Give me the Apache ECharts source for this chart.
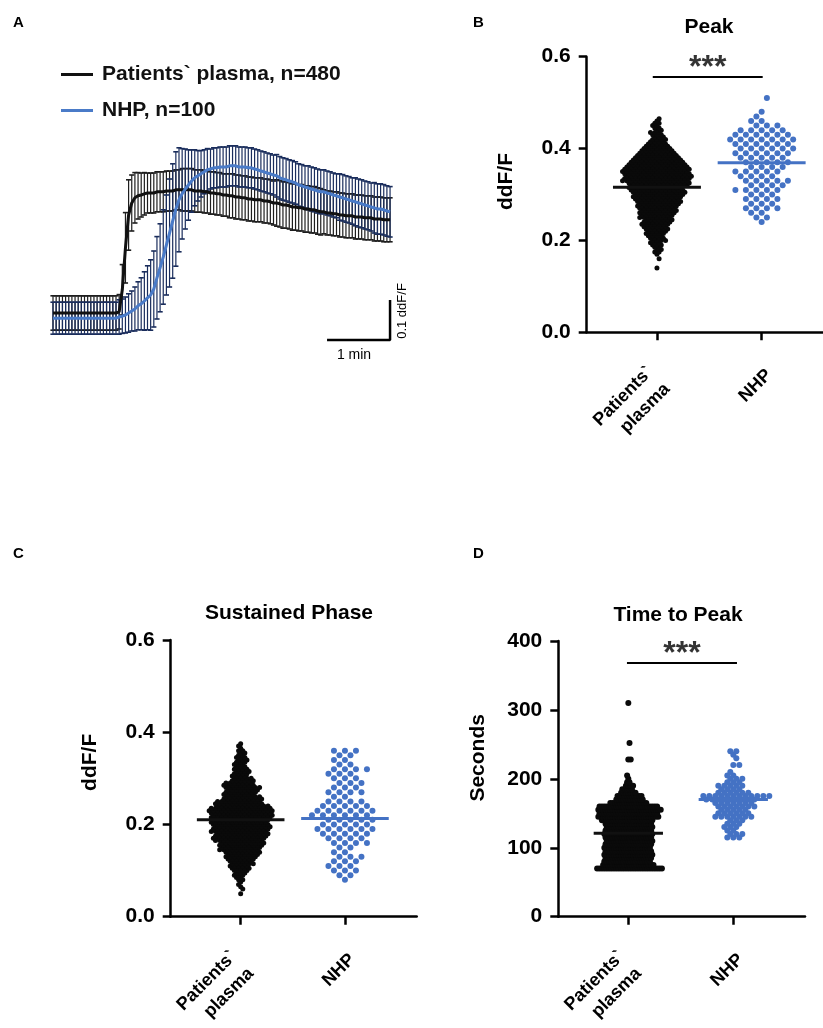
<!DOCTYPE html>
<html><head><meta charset="utf-8">
<script src="https://cdn.jsdelivr.net/npm/echarts@6/dist/echarts.min.js"></script>
<style>html,body{margin:0;padding:0;background:#fff}#c{width:823px;height:1028px}</style>
</head><body><div id="c"></div><script>
// ---------------- DATA ----------------
const legendNames = ['Patients` plasma, n=480', 'NHP, n=100'];
const groupLabels = ['Patients`\nplasma', 'NHP'];

// Panel A: mean traces (ddF/F) sampled every traceStep seconds, with SD
const traceStep = 3;
const patientsMean = [
0.005,0.005,0.005,0.005,0.005,0.005,0.005,0.005,0.005,0.005,
0.005,0.005,0.005,0.005,0.005,0.005,0.005,0.005,0.005,0.005,
0.005,0.008,0.063,0.168,0.250,0.280,0.293,0.298,0.300,0.303,
0.305,0.305,0.305,0.308,0.308,0.308,0.310,0.310,0.310,0.313,
0.313,0.313,0.313,0.313,0.313,0.310,0.310,0.310,0.308,0.308,
0.305,0.305,0.303,0.303,0.300,0.300,0.298,0.298,0.295,0.295,
0.293,0.293,0.290,0.290,0.288,0.288,0.288,0.285,0.285,0.283,
0.280,0.280,0.278,0.275,0.275,0.273,0.270,0.270,0.268,0.268,
0.265,0.265,0.263,0.263,0.260,0.258,0.258,0.255,0.255,0.253,
0.253,0.250,0.250,0.248,0.248,0.248,0.245,0.245,0.245,0.243,
0.243,0.243,0.240,0.240,0.240,0.238,0.238,0.238];
const patientsSD = [
0.043,0.043,0.043,0.043,0.043,0.043,0.043,0.043,0.043,0.043,
0.043,0.043,0.043,0.043,0.043,0.043,0.043,0.043,0.043,0.043,
0.043,0.043,0.063,0.088,0.088,0.070,0.063,0.058,0.055,0.053,
0.050,0.050,0.050,0.050,0.050,0.050,0.050,0.050,0.050,0.050,
0.050,0.053,0.053,0.053,0.053,0.053,0.053,0.053,0.053,0.053,
0.053,0.053,0.053,0.053,0.053,0.053,0.055,0.055,0.055,0.055,
0.055,0.055,0.055,0.055,0.055,0.055,0.055,0.055,0.055,0.055,
0.055,0.058,0.058,0.058,0.058,0.058,0.058,0.058,0.058,0.058,
0.058,0.058,0.058,0.058,0.058,0.058,0.055,0.055,0.055,0.055,
0.055,0.055,0.055,0.055,0.055,0.055,0.055,0.055,0.055,0.055,
0.055,0.055,0.055,0.055,0.055,0.055,0.055,0.055];
const nhpMean = [
-0.008,-0.008,-0.008,-0.008,-0.008,-0.008,-0.008,-0.008,-0.008,-0.008,
-0.008,-0.008,-0.008,-0.008,-0.008,-0.008,-0.008,-0.008,-0.008,-0.008,
-0.008,-0.005,-0.003,0.000,0.005,0.010,0.015,0.023,0.028,0.035,
0.043,0.050,0.065,0.093,0.118,0.145,0.175,0.205,0.235,0.265,
0.288,0.303,0.315,0.325,0.335,0.343,0.348,0.353,0.358,0.363,
0.365,0.368,0.368,0.370,0.370,0.370,0.373,0.373,0.373,0.370,
0.370,0.370,0.368,0.368,0.365,0.363,0.360,0.358,0.355,0.353,
0.350,0.348,0.343,0.340,0.338,0.335,0.333,0.330,0.325,0.323,
0.320,0.318,0.315,0.313,0.310,0.308,0.308,0.305,0.303,0.300,
0.298,0.295,0.293,0.290,0.288,0.285,0.283,0.280,0.278,0.275,
0.273,0.270,0.268,0.265,0.265,0.263,0.260,0.258];
const nhpSD = [
0.040,0.040,0.040,0.040,0.040,0.040,0.040,0.040,0.040,0.040,
0.040,0.040,0.040,0.040,0.040,0.040,0.040,0.040,0.040,0.040,
0.040,0.043,0.043,0.045,0.048,0.050,0.055,0.060,0.065,0.073,
0.080,0.088,0.095,0.103,0.110,0.118,0.125,0.135,0.143,0.143,
0.130,0.113,0.100,0.088,0.078,0.070,0.063,0.058,0.055,0.053,
0.050,0.050,0.050,0.050,0.050,0.050,0.050,0.050,0.050,0.050,
0.050,0.050,0.050,0.050,0.050,0.050,0.050,0.050,0.050,0.050,
0.050,0.053,0.053,0.053,0.053,0.053,0.053,0.053,0.053,0.053,
0.053,0.055,0.055,0.055,0.055,0.055,0.055,0.055,0.055,0.055,
0.055,0.058,0.058,0.058,0.058,0.058,0.060,0.060,0.060,0.060,
0.060,0.060,0.063,0.063,0.063,0.063,0.063,0.063];
const scaleBarSeconds = 60;
const scaleBarDdf = 0.1;

// Panels B-D: swarm rows [value, number of cells at that value]
const peakPatientsRows = [
[0.140,1],[0.160,1],[0.170,1],[0.175,2],[0.180,2],[0.185,2],[0.190,3],[0.195,3],
[0.200,4],[0.205,4],[0.210,4],[0.215,5],[0.220,5],[0.225,6],[0.230,6],[0.235,7],[0.240,7],[0.245,7],
[0.250,8],[0.255,8],[0.260,9],[0.265,9],[0.270,9],[0.275,10],[0.280,10],[0.285,11],[0.290,11],[0.295,12],
[0.300,12],[0.305,13],[0.310,13],[0.315,13],[0.320,14],[0.325,15],[0.330,16],[0.335,16],[0.340,16],[0.345,16],
[0.350,16],[0.355,16],[0.360,15],[0.365,14],[0.370,13],[0.375,12],[0.380,11],[0.385,10],[0.390,9],[0.395,8],
[0.400,7],[0.405,6],[0.410,5],[0.415,4],[0.420,4],[0.425,3],[0.430,3],[0.435,3],[0.440,2],[0.445,2],
[0.450,2],[0.455,2],[0.460,1],[0.465,1]];
const peakNhpRows = [
[0.24,1],[0.25,2],[0.26,2],[0.27,4],[0.28,3],[0.29,4],[0.30,3],[0.31,5],[0.32,4],[0.33,5],
[0.34,4],[0.35,5],[0.36,4],[0.37,5],[0.38,5],[0.39,6],[0.40,6],[0.41,6],[0.42,7],[0.43,6],
[0.44,5],[0.45,3],[0.46,2],[0.47,1],[0.48,1],[0.51,1]];
const sustainedPatientsRows = [
[0.050,1],[0.060,1],[0.065,1],[0.070,1],[0.075,1],[0.080,2],[0.085,2],[0.090,3],[0.095,3],
[0.100,4],[0.105,5],[0.110,5],[0.115,6],[0.120,6],[0.125,7],[0.130,8],[0.135,8],[0.140,9],[0.145,10],
[0.150,10],[0.155,11],[0.160,11],[0.165,12],[0.170,13],[0.175,13],[0.180,13],[0.185,14],[0.190,14],[0.195,14],
[0.200,14],[0.205,14],[0.210,14],[0.215,15],[0.220,15],[0.225,15],[0.230,16],[0.235,15],[0.240,13],[0.245,12],
[0.250,11],[0.255,10],[0.260,9],[0.265,8],[0.270,8],[0.275,8],[0.280,9],[0.285,8],[0.290,7],[0.295,6],
[0.300,5],[0.305,4],[0.310,4],[0.315,4],[0.320,4],[0.325,3],[0.330,3],[0.335,3],[0.340,3],[0.345,3],
[0.350,2],[0.355,2],[0.360,2],[0.365,1],[0.370,1],[0.375,1]];
const sustainedNhpRows = [
[0.08,1],[0.09,2],[0.10,3],[0.11,3],[0.12,3],[0.13,3],[0.14,2],[0.15,2],[0.16,4],[0.17,4],
[0.18,5],[0.19,6],[0.20,5],[0.21,5],[0.22,6],[0.23,6],[0.24,5],[0.25,4],[0.26,2],[0.27,4],
[0.28,3],[0.29,3],[0.30,3],[0.31,3],[0.32,4],[0.33,2],[0.34,2],[0.35,2],[0.36,3]];
const ttpPatientsRows = [
[70,28],[75,22],[80,20],[85,20],[90,21],[95,20],[100,20],[105,20],[110,20],[115,20],
[120,21],[125,20],[130,20],[135,20],[140,22],[145,26],[150,25],[155,27],[160,25],[165,16],
[170,12],[175,11],[180,7],[185,5],[190,4],[195,2],[200,1],[205,1],[228,2],[252,1],[310,1]];
const ttpNhpRows = [
[115,3],[120,3],[125,2],[130,3],[135,3],[140,3],[145,7],[150,6],[155,5],[160,7],
[165,7],[170,9],[175,12],[180,6],[185,4],[190,5],[195,3],[200,3],[205,2],[210,1],
[220,2],[230,1],[235,1],[240,2]];

const peakMeans = [0.316, 0.369];
const sustainedMeans = [0.210, 0.213];
const ttpMeans = [121, 170];

// significance bars: [from category position, to category position, level]
const peakSigBar = [0.96, 2.01, 0.556];
const ttpSigBar = [0.987, 2.035, 368];

// ---------------- STYLE ----------------
const FONT = '"Liberation Sans", Arial, Helvetica, sans-serif';
const BLACK = '#111111';
const BLUE = '#4472c4';
const LINEBLUE = '#4a7bc8';
const NAVY = '#1a2d5c';
const ERRGRAY = '#1e1e1e';
const LABEL_NUDGE = 0.07; // rotated category labels sit slightly right of their tick

const chart = echarts.init(document.getElementById('c'), null, {renderer: 'canvas'});

function errorBarRenderer(color) {
  return function (params, api) {
    const t = api.value(0), m = api.value(1), sd = api.value(2);
    const hi = api.coord([t, m + sd]);
    const lo = api.coord([t, m - sd]);
    const cap = 2.6;
    return {type: 'group', children: [
      {type: 'line', shape: {x1: hi[0], y1: hi[1], x2: lo[0], y2: lo[1]}, style: {stroke: color, lineWidth: 1.2}},
      {type: 'line', shape: {x1: hi[0] - cap, y1: hi[1], x2: hi[0] + cap, y2: hi[1]}, style: {stroke: color, lineWidth: 1.6}},
      {type: 'line', shape: {x1: lo[0] - cap, y1: lo[1], x2: lo[0] + cap, y2: lo[1]}, style: {stroke: color, lineWidth: 1.6}}
    ]};
  };
}

// beeswarm row layout: cells of one row side by side, consecutive rows staggered
function swarmRenderer(dot, spacing, color) {
  return function (params, api) {
    const cat = api.value(0), v = api.value(1), n = api.value(2);
    const c = api.coord([cat, v]);
    const r = params.dataIndex;
    const wantHalf = r % 2 === 1, isHalf = n % 2 === 0;
    const shift = (wantHalf !== isHalf) ? ((r % 4 < 2) ? 1 : -1) * spacing / 2 : 0;
    const children = [];
    for (let j = 0; j < n; j++) {
      const dx = (j - (n - 1) / 2) * spacing + shift;
      children.push({type: 'circle', shape: {cx: c[0] + dx, cy: c[1], r: dot / 2}, style: {fill: color}});
    }
    return {type: 'group', children: children};
  };
}

function meanRenderer(halfWidth) {
  return function (params, api) {
    const cat = api.value(0), m = api.value(1);
    const a = api.coord([cat - halfWidth, m]);
    const b = api.coord([cat + halfWidth, m]);
    return {type: 'line', shape: {x1: a[0], y1: a[1], x2: b[0], y2: b[1]},
      style: {stroke: cat === 1 ? BLACK : BLUE, lineWidth: 3}};
  };
}

const rowsData = (rows, cat) => rows.map(r => [cat, r[0], r[1]]);
const meansData = means => means.map((m, i) => [i + 1, m]);

// panel A geometry
const traceTMax = 324, traceYMin = -0.0625, traceYMax = 0.4375;
const tEnd = (patientsMean.length - 1) * traceStep;

const textBold = {fontFamily: FONT, fontWeight: 'bold', color: '#000'};

function categoryLabel(v) {
  const lines = groupLabels[Math.round(v) - 1].split('\n');
  if (lines.length === 1) return '{s|' + lines[0] + '}';
  return lines.map(l => '{m|' + l + '}').join('\n');
}

function dotAxisX(gridIndex, min, max) {
  return {
    gridIndex: gridIndex, type: 'value', min: min, max: max,
    splitLine: {show: false},
    axisLine: {show: true, onZero: false, lineStyle: {color: '#000', width: 2.5}},
    axisTick: {show: true, customValues: [1, 2], length: 8, lineStyle: {color: '#000', width: 2.5}},
    axisLabel: {show: true, customValues: [1 + LABEL_NUDGE, 2 + LABEL_NUDGE], rotate: 45, margin: 40,
      formatter: categoryLabel,
      fontSize: 18, ...textBold,
      rich: {
        s: {fontSize: 18, lineHeight: 22, ...textBold},
        m: {fontSize: 18, lineHeight: 24, ...textBold, padding: [0, 8, 0, 0]}
      }}
  };
}
function dotAxisY(gridIndex, min, max, interval, digits, name, shiftUp) {
  return {
    gridIndex: gridIndex, type: 'value', min: min, max: max, interval: interval,
    splitLine: {show: false},
    axisLine: {show: true, lineStyle: {color: '#000', width: 2.5}},
    axisTick: {show: true, length: 8, lineStyle: {color: '#000', width: 2.5}},
    axisLabel: {margin: 16, fontSize: 21, formatter: v => v.toFixed(digits), ...textBold},
    name: name, nameLocation: 'middle', nameGap: 70, nameRotate: 90,
    nameTextStyle: {fontSize: 21, ...textBold, padding: [0, 0, 0, shiftUp * 2]}
  };
}

const gridBase = {containLabel: false, outerBoundsMode: 'none'};

const option = {
  animation: false,
  backgroundColor: '#ffffff',
  legend: {
    left: 56, top: 59, orient: 'vertical', itemWidth: 32, itemHeight: 3, itemGap: 15,
    icon: 'rect', selectedMode: false, data: legendNames,
    textStyle: {fontSize: 21, ...textBold, color: '#111', padding: [0, 0, 0, 4]}
  },
  grid: [
    {...gridBase, left: 53, top: 140, width: traceTMax * 63 / 60, height: 200},
    {...gridBase, left: 586.7, top: 56.7, width: 236.3, height: 275.6},
    {...gridBase, left: 170.7, top: 640, width: 246, height: 276.7},
    {...gridBase, left: 558.3, top: 641, width: 246.7, height: 275.7}
  ],
  xAxis: [
    {gridIndex: 0, type: 'value', min: 0, max: traceTMax, show: false},
    dotAxisX(1, 0.329, 2.586),
    dotAxisX(2, 0.329, 2.688),
    dotAxisX(3, 0.333, 2.683)
  ],
  yAxis: [
    {gridIndex: 0, type: 'value', min: traceYMin, max: traceYMax, show: false},
    dotAxisY(1, 0, 0.6, 0.2, 1, 'ddF/F', 13),
    dotAxisY(2, 0, 0.6, 0.2, 1, 'ddF/F', 16),
    dotAxisY(3, 0, 400, 100, 0, 'Seconds', 21)
  ],
  series: [
    // Panel A
    {type: 'custom', xAxisIndex: 0, yAxisIndex: 0, clip: false,
      renderItem: errorBarRenderer(ERRGRAY), dimensions: ['t', 'mean', 'sd'], encode: {x: 0, y: 1},
      data: patientsMean.map((m, i) => [i * traceStep, m, patientsSD[i]])},
    {type: 'custom', xAxisIndex: 0, yAxisIndex: 0, clip: false,
      renderItem: errorBarRenderer(NAVY), dimensions: ['t', 'mean', 'sd'], encode: {x: 0, y: 1},
      data: nhpMean.map((m, i) => [i * traceStep, m, nhpSD[i]])},
    {type: 'line', name: legendNames[0], xAxisIndex: 0, yAxisIndex: 0, showSymbol: false, symbol: 'none',
      itemStyle: {color: BLACK}, lineStyle: {color: BLACK, width: 3},
      data: patientsMean.map((m, i) => [i * traceStep, m])},
    {type: 'line', name: legendNames[1], xAxisIndex: 0, yAxisIndex: 0, showSymbol: false, symbol: 'none',
      itemStyle: {color: LINEBLUE}, lineStyle: {color: LINEBLUE, width: 3},
      data: nhpMean.map((m, i) => [i * traceStep, m])},
    {type: 'line', xAxisIndex: 0, yAxisIndex: 0, symbol: 'none', clip: false,
      lineStyle: {color: '#000', width: 2.5},
      data: [[tEnd - scaleBarSeconds, traceYMin], [tEnd, traceYMin], [tEnd, traceYMin + scaleBarDdf]]},
    // Panel B
    {type: 'custom', xAxisIndex: 1, yAxisIndex: 1, renderItem: swarmRenderer(5, 4.3, '#0a0a0a'),
      encode: {x: 0, y: 1}, data: rowsData(peakPatientsRows, 1)},
    {type: 'custom', xAxisIndex: 1, yAxisIndex: 1, renderItem: swarmRenderer(6, 10.5, BLUE),
      encode: {x: 0, y: 1}, data: rowsData(peakNhpRows, 2)},
    {type: 'custom', xAxisIndex: 1, yAxisIndex: 1, renderItem: meanRenderer(0.42),
      encode: {x: 0, y: 1}, data: meansData(peakMeans)},
    {type: 'line', xAxisIndex: 1, yAxisIndex: 1, symbol: 'none', lineStyle: {color: '#000', width: 2},
      data: [[peakSigBar[0], peakSigBar[2]], [peakSigBar[1], peakSigBar[2]]]},
    {type: 'scatter', xAxisIndex: 1, yAxisIndex: 1, symbolSize: 1, itemStyle: {color: 'rgba(0,0,0,0)'},
      label: {show: true, formatter: '***', position: 'inside', offset: [0, -9], fontSize: 32, ...textBold},
      data: [[(peakSigBar[0] + peakSigBar[1]) / 2, peakSigBar[2]]]},
    // Panel C
    {type: 'custom', xAxisIndex: 2, yAxisIndex: 2, renderItem: swarmRenderer(5, 4.2, '#0a0a0a'),
      encode: {x: 0, y: 1}, data: rowsData(sustainedPatientsRows, 1)},
    {type: 'custom', xAxisIndex: 2, yAxisIndex: 2, renderItem: swarmRenderer(6, 11, BLUE),
      encode: {x: 0, y: 1}, data: rowsData(sustainedNhpRows, 2)},
    {type: 'custom', xAxisIndex: 2, yAxisIndex: 2, renderItem: meanRenderer(0.42),
      encode: {x: 0, y: 1}, data: meansData(sustainedMeans)},
    // Panel D
    {type: 'custom', xAxisIndex: 3, yAxisIndex: 3, renderItem: swarmRenderer(6, 2.4, '#0a0a0a'),
      encode: {x: 0, y: 1}, data: rowsData(ttpPatientsRows, 1)},
    {type: 'custom', xAxisIndex: 3, yAxisIndex: 3, renderItem: swarmRenderer(6, 6, BLUE),
      encode: {x: 0, y: 1}, data: rowsData(ttpNhpRows, 2)},
    {type: 'custom', xAxisIndex: 3, yAxisIndex: 3, renderItem: meanRenderer(0.33),
      encode: {x: 0, y: 1}, data: meansData(ttpMeans)},
    {type: 'line', xAxisIndex: 3, yAxisIndex: 3, symbol: 'none', lineStyle: {color: '#000', width: 2},
      data: [[ttpSigBar[0], ttpSigBar[2]], [ttpSigBar[1], ttpSigBar[2]]]},
    {type: 'scatter', xAxisIndex: 3, yAxisIndex: 3, symbolSize: 1, itemStyle: {color: 'rgba(0,0,0,0)'},
      label: {show: true, formatter: '***', position: 'inside', offset: [0, -9], fontSize: 32, ...textBold},
      data: [[(ttpSigBar[0] + ttpSigBar[1]) / 2, ttpSigBar[2]]]}
  ],
  graphic: [
    {type: 'text', x: 13, y: 23, style: {text: 'A', font: 'bold 15px ' + FONT, fill: '#000', verticalAlign: 'middle'}},
    {type: 'text', x: 473, y: 23, style: {text: 'B', font: 'bold 15px ' + FONT, fill: '#000', verticalAlign: 'middle'}},
    {type: 'text', x: 13, y: 554, style: {text: 'C', font: 'bold 15px ' + FONT, fill: '#000', verticalAlign: 'middle'}},
    {type: 'text', x: 473, y: 554, style: {text: 'D', font: 'bold 15px ' + FONT, fill: '#000', verticalAlign: 'middle'}},
    {type: 'text', x: 709, y: 27, style: {text: 'Peak', font: 'bold 21px ' + FONT, fill: '#000', align: 'center', verticalAlign: 'middle'}},
    {type: 'text', x: 289, y: 613, style: {text: 'Sustained Phase', font: 'bold 21px ' + FONT, fill: '#000', align: 'center', verticalAlign: 'middle'}},
    {type: 'text', x: 678, y: 615, style: {text: 'Time to Peak', font: 'bold 21px ' + FONT, fill: '#000', align: 'center', verticalAlign: 'middle'}},
    {type: 'text', x: 354, y: 355, style: {text: '1 min', font: '14px ' + FONT, fill: '#000', align: 'center', verticalAlign: 'middle'}},
    {type: 'text', x: 402, y: 311, rotation: Math.PI / 2, style: {text: '0.1 ddF/F', font: '13px ' + FONT, fill: '#000', align: 'center', verticalAlign: 'middle'}}
  ]
};
chart.setOption(option);
</script></body></html>
